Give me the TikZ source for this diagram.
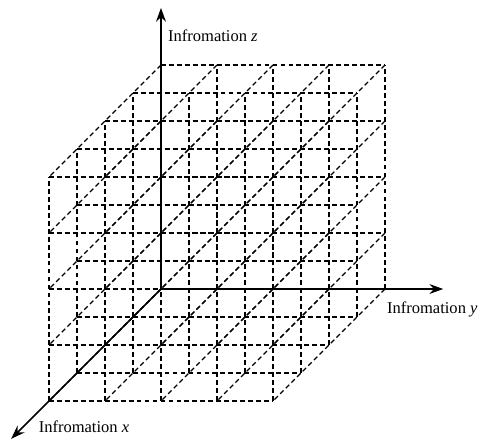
\documentclass[tikz,border=0pt]{standalone}
\usepackage{fontspec}
\setmainfont{Liberation Serif}
\usetikzlibrary{arrows.meta}

\begin{document}
\begin{tikzpicture}[
    gridline/.style={dash pattern=on 2.45pt off 1.6pt, line width=0.6pt, color=black},
    axis/.style={-{Stealth[length=7pt, width=5pt]}, line width=0.8pt, color=black},
    axislabel/.style={anchor=base west, inner sep=0pt, font=\fontsize{8.4}{10}\selectfont}
]

    % Frame
    \useasboundingbox (-2.875,-2.696) rectangle (5.661,5.161);

    % Labels
    \node[axislabel] (zlabel) at (0.12,4.416) {Infromation \textit{z}};
    \node[axislabel] (ylabel) at (4.03,-0.446) {Infromation \textit{y}};
    \node[axislabel] (xlabel) at (-2.19,-2.554) {Infromation \textit{x}};

    \begin{scope}[x={(-0.5cm,-0.5cm)}, y={(1cm,0cm)}, z={(0cm,1cm)}]

        % Lattice
        \foreach \i in {0,...,4} {
            \foreach \j in {0,...,4} {
                \draw[gridline] (\i,\j,0) -- (\i,\j,4);
                \draw[gridline] (\i,0,\j) -- (\i,4,\j);
                \draw[gridline] (0,\i,\j) -- (4,\i,\j);
            }
        }

        % Axes
        \coordinate (origin) at (0,0,0);
        \coordinate (xend) at (5.35,0,0);
        \coordinate (yend) at (0,5.04,0);
        \coordinate (zend) at (0,0,5.02);

        \draw[axis] (origin) -- (xend);
        \draw[axis] (origin) -- (yend);
        \draw[axis] (origin) -- (zend);

    \end{scope}

\end{tikzpicture}
\end{document}
